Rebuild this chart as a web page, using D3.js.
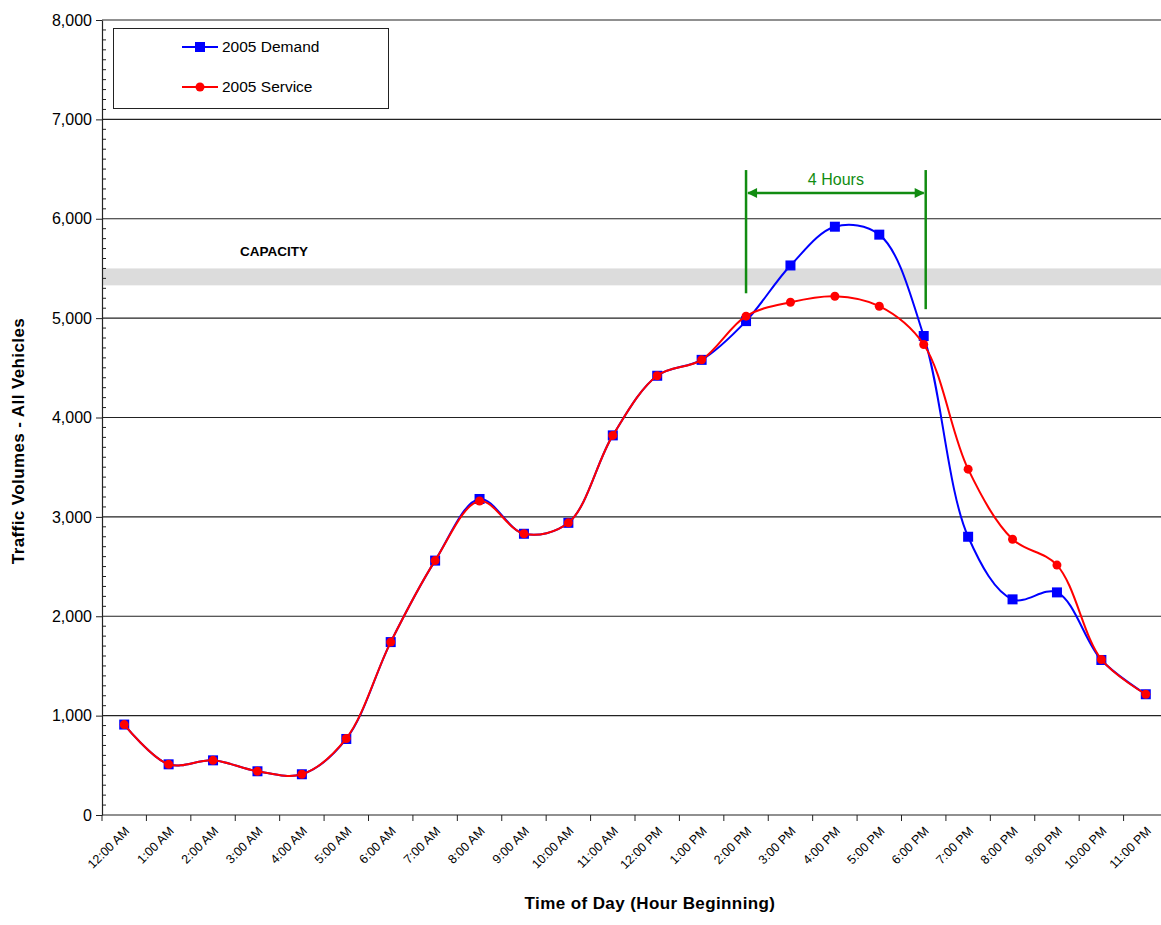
<!DOCTYPE html>
<html>
<head>
<meta charset="utf-8">
<script src="https://cdn.jsdelivr.net/npm/d3@7"></script>
<style>
  body { margin: 0; background: #fff; }
  svg { display: block; font-family: Arial, "Liberation Sans", sans-serif; }
  .tick-label { font-size: 12.5px; fill: #000; }
  .y-label { font-size: 16px; fill: #000; }
  .axis-title { font-size: 17px; font-weight: bold; fill: #000; letter-spacing: 0.4px; }
</style>
</head>
<body>
<svg id="chart"></svg>
<script>
// Hour-beginning categories
var hours = ["12:00 AM", "1:00 AM", "2:00 AM", "3:00 AM", "4:00 AM", "5:00 AM",
    "6:00 AM", "7:00 AM", "8:00 AM", "9:00 AM", "10:00 AM", "11:00 AM",
    "12:00 PM", "1:00 PM", "2:00 PM", "3:00 PM", "4:00 PM", "5:00 PM",
    "6:00 PM", "7:00 PM", "8:00 PM", "9:00 PM", "10:00 PM", "11:00 PM"];

// Volumes
var demand2005 = [910, 510, 550, 440, 410, 765, 1740, 2560, 3180, 2830, 2940, 3820,
    4420, 4580, 4970, 5530, 5920, 5840, 4820, 2800, 2170, 2240, 1560, 1215];
var service2005 = [910, 510, 550, 440, 410, 770, 1740, 2560, 3160, 2830, 2940, 3820,
    4420, 4580, 5020, 5160, 5220, 5120, 4735, 3480, 2775, 2515, 1565, 1215];

var yTicks = [0, 1000, 2000, 3000, 4000, 5000, 6000, 7000, 8000];
var capacityBand = [5330, 5500];

var margin = { top: 20, left: 102 },
    width = 1066,
    height = 795;

var svg = d3.select("#chart")
    .attr("width", 1161)
    .attr("height", 925);

var g = svg.append("g")
    .attr("transform", "translate(" + margin.left + "," + margin.top + ")");

var x = d3.scaleBand().domain(hours).range([0, width]).padding(0);
var y = d3.scaleLinear().domain([0, 8000]).range([height, 0]);
var cx = d => x(d) + x.bandwidth() / 2;

// capacity band
g.append("rect")
    .attr("x", 0)
    .attr("width", width)
    .attr("y", y(capacityBand[1]))
    .attr("height", y(capacityBand[0]) - y(capacityBand[1]))
    .attr("fill", "#dcdcdc");

g.append("text")
    .attr("x", 172)
    .attr("y", y(capacityBand[1]) - 12)
    .attr("text-anchor", "middle")
    .style("font-size", "13.5px")
    .style("font-weight", "bold")
    .text("CAPACITY");

// horizontal gridlines
g.selectAll(".grid")
    .data(yTicks.filter(d => d > 0))
    .enter().append("line")
    .attr("class", "grid")
    .attr("x1", 0).attr("x2", width)
    .attr("y1", d => y(d)).attr("y2", d => y(d))
    .attr("stroke", "#222").attr("stroke-width", 1.2);

// y axis with minor ticks inside
var yAxis = g.append("g")
    .call(d3.axisLeft(y).tickValues(yTicks).tickSize(6).tickSizeOuter(0).tickFormat(d3.format(",")));
yAxis.select(".domain").attr("stroke", "#222").attr("stroke-width", 1.2);
yAxis.selectAll(".tick line").attr("stroke", "#222").attr("x2", -6);
yAxis.selectAll(".tick text").attr("class", "y-label").attr("x", -10);

g.append("g")
    .selectAll("line")
    .data(d3.range(100, 8000, 100).filter(d => d % 1000 !== 0))
    .enter().append("line")
    .attr("x1", 0).attr("x2", 4)
    .attr("y1", d => y(d)).attr("y2", d => y(d))
    .attr("stroke", "#222");

// x axis: ticks at category boundaries
var xAxis = g.append("g")
    .attr("transform", "translate(0," + height + ")");
xAxis.append("line")
    .attr("x1", 0).attr("x2", width)
    .attr("stroke", "#222").attr("stroke-width", 1.2);
xAxis.selectAll(".xt")
    .data(hours)
    .enter().append("line")
    .attr("x1", d => x(d)).attr("x2", d => x(d))
    .attr("y1", 0).attr("y2", 6)
    .attr("stroke", "#222");
xAxis.selectAll(".xl")
    .data(hours)
    .enter().append("text")
    .attr("class", "tick-label")
    .attr("text-anchor", "end")
    .attr("transform", d => "translate(" + (cx(d) + 6) + ",17) rotate(-45)")
    .text(d => d);

// lines
var line = d3.line()
    .x((d, i) => cx(hours[i]))
    .y(d => y(d))
    .curve(d3.curveCatmullRom.alpha(0.5));

g.append("path")
    .datum(demand2005)
    .attr("fill", "none")
    .attr("stroke", "#0000ff")
    .attr("stroke-width", 2)
    .attr("d", line);

g.selectAll(".dem")
    .data(demand2005)
    .enter().append("rect")
    .attr("x", (d, i) => cx(hours[i]) - 5)
    .attr("y", d => y(d) - 5)
    .attr("width", 10).attr("height", 10)
    .attr("fill", "#0000ff");

g.append("path")
    .datum(service2005)
    .attr("fill", "none")
    .attr("stroke", "#ff0000")
    .attr("stroke-width", 2)
    .attr("d", line);

g.selectAll(".srv")
    .data(service2005)
    .enter().append("circle")
    .attr("cx", (d, i) => cx(hours[i]))
    .attr("cy", d => y(d))
    .attr("r", 4.5)
    .attr("fill", "#ff0000");

// "4 Hours" bracket
var green = "#118c11";
var bx1 = cx("2:00 PM"), bx2 = cx("6:00 PM") + 2;
g.append("line")
    .attr("x1", bx1).attr("x2", bx1)
    .attr("y1", y(6490)).attr("y2", y(5250))
    .attr("stroke", green).attr("stroke-width", 2.5);
g.append("line")
    .attr("x1", bx2).attr("x2", bx2)
    .attr("y1", y(6490)).attr("y2", y(5090))
    .attr("stroke", green).attr("stroke-width", 2.5);
g.append("line")
    .attr("x1", bx1 + 2).attr("x2", bx2 - 2)
    .attr("y1", y(6260)).attr("y2", y(6260))
    .attr("stroke", green).attr("stroke-width", 2.5);
[[bx1 + 1, 1], [bx2 - 1, -1]].forEach(function (a) {
    g.append("path")
        .attr("d", "M" + a[0] + "," + y(6260) +
            "l" + (a[1] * 10) + ",-5 l0,10 Z")
        .attr("fill", green);
});
g.append("text")
    .attr("x", (bx1 + bx2) / 2)
    .attr("y", y(6340))
    .attr("text-anchor", "middle")
    .style("font-size", "16px")
    .attr("fill", green)
    .text("4 Hours");

// legend
var legend = svg.append("g");
legend.append("rect")
    .attr("x", 113.5).attr("y", 28.5)
    .attr("width", 275).attr("height", 80)
    .attr("fill", "#fff").attr("stroke", "#222");
var legendItems = [
    { name: "2005 Demand", color: "#0000ff", shape: "square" },
    { name: "2005 Service", color: "#ff0000", shape: "circle" }
];
legendItems.forEach(function (d, i) {
    var ly = 47 + i * 40;
    legend.append("line")
        .attr("x1", 182).attr("x2", 218)
        .attr("y1", ly).attr("y2", ly)
        .attr("stroke", d.color).attr("stroke-width", 2);
    if (d.shape === "square") {
        legend.append("rect")
            .attr("x", 195).attr("y", ly - 5)
            .attr("width", 10).attr("height", 10)
            .attr("fill", d.color);
    } else {
        legend.append("circle")
            .attr("cx", 200).attr("cy", ly).attr("r", 4.5)
            .attr("fill", d.color);
    }
    legend.append("text")
        .attr("x", 222).attr("y", ly + 5)
        .style("font-size", "15.5px")
        .text(d.name);
});

// axis titles
svg.append("text")
    .attr("class", "axis-title")
    .attr("text-anchor", "middle")
    .attr("transform", "translate(24," + 441 + ") rotate(-90)")
    .text("Traffic Volumes - All Vehicles");

svg.append("text")
    .attr("class", "axis-title")
    .attr("text-anchor", "middle")
    .attr("x", 650)
    .attr("y", 909)
    .text("Time of Day (Hour Beginning)");
</script>
</body>
</html>
